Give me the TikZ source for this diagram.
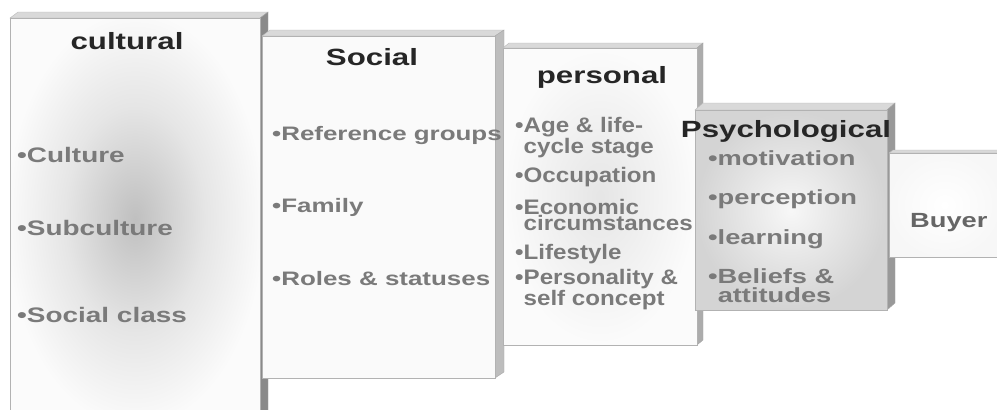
\documentclass[tikz,border=0pt]{standalone}
\usepackage{fontspec}
\newfontfamily\widesans[FakeStretch=1.33]{Liberation Sans}
\newfontfamily\narrowsans[FakeStretch=1.15]{Liberation Sans}
\pgfdeclareradialshading{blob}{\pgfpoint{0bp}{0bp}}{color(0bp)=(gray!50); color(14bp)=(gray!20); color(26bp)=(gray!3); color(50bp)=(gray!3)}

\begin{document}
\begin{tikzpicture}[
  x=1pt, y=-1pt,
  face/.style={draw=gray!60, line width=0.7pt},
  rim/.style={fill=gray!30, draw=gray!55, line width=0.4pt},
  side/.style={draw=gray!70, line width=0.4pt},
  head/.style={anchor=base, inner sep=0pt, text=black!85,
    font=\widesans\bfseries\fontsize{23.5}{24}\selectfont},
  item/.style={anchor=base west, inner sep=0pt, text=black!52, align=left,
    font=\widesans\bfseries\fontsize{#1}{19}\selectfont},
  pitem/.style={anchor=base west, inner sep=0pt, text=black!52, align=left,
    font=\narrowsans\bfseries\fontsize{21}{16}\selectfont}
]
\useasboundingbox (0,0) rectangle (997,410);
\clip (0,0) rectangle (997,410);

% cultural
\fill[rim] (10,18) -- (18,12) -- (268,12) -- (260,18) -- cycle;
\filldraw[side, fill=gray!92] (260,18) -- (268,12) -- (268,420) -- (260,420) -- cycle;
\shadedraw[face, shading=blob] (10,18) rectangle (260,420);

% social
\fill[rim] (262,36) -- (270,30) -- (504,30) -- (495,36) -- cycle;
\filldraw[side, fill=gray!52] (495,36) -- (504,30) -- (504,372) -- (495,378) -- cycle;
\filldraw[face, fill=gray!4] (262,36) rectangle (495,378);

% personal
\fill[rim] (503,48) -- (509,43) -- (703,43) -- (697,48) -- cycle;
\filldraw[side, fill=gray!65] (697,48) -- (703,43) -- (703,340) -- (697,345) -- cycle;
\shadedraw[face, inner color=gray!20, outer color=gray!3] (503,48) rectangle (697,345);

% psychological
\fill[rim] (695,110) -- (703,103) -- (895,103) -- (887,110) -- cycle;
\filldraw[side, fill=gray!80] (887,110) -- (895,103) -- (895,303) -- (887,310) -- cycle;
\shadedraw[face, inner color=gray!6, outer color=gray!34] (695,110) rectangle (887,310);

% buyer
\fill[rim] (889,153) -- (893,150) -- (1000,150) -- (1000,153) -- cycle;
\shadedraw[face, inner color=white, outer color=gray!6] (889,153) rectangle (1000,257);

\node[head] (cultural) at (127,49) {cultural};
\node[item=21] (culture) at (17,162.5) {•Culture};
\node[item=21] (subculture) at (17,235.5) {•Subculture};
\node[item=21] (socialclass) at (17,322.5) {•Social class};

\node[head] (social) at (372,65) {Social};
\node[item=19.5] (refgroups) at (272,140) {•Reference groups};
\node[item=19.5] (family) at (272,212) {•Family};
\node[item=19.5] (roles) at (272,285) {•Roles \& statuses};

\node[head] (personal) at (602,83) {personal};
\node[pitem] (age) at (515,153) {•Age \& life-\\\hphantom{•}cycle stage};
\node[pitem] (occupation) at (515,182.5) {•Occupation};
\node[pitem] (economic) at (515,230.5) {•Economic\\\hphantom{•}circumstances};
\node[pitem] (lifestyle) at (515,259.5) {•Lifestyle};
\node[pitem] (personality) at (515,305) {•Personality \&\\\hphantom{•}self concept};

\node[head] (psychological) at (786,137) {Psychological};
\node[item=20.5] (motivation) at (708,165) {•motivation};
\node[item=20.5] (perception) at (708,204) {•perception};
\node[item=20.5] (learning) at (708,244) {•learning};
\node[item=20.5] (beliefs) at (708,302) {•Beliefs \&\\\hphantom{•}attitudes};

\node[item=20.5, text=black!60] (buyer) at (910,227) {Buyer};
\end{tikzpicture}
\end{document}
